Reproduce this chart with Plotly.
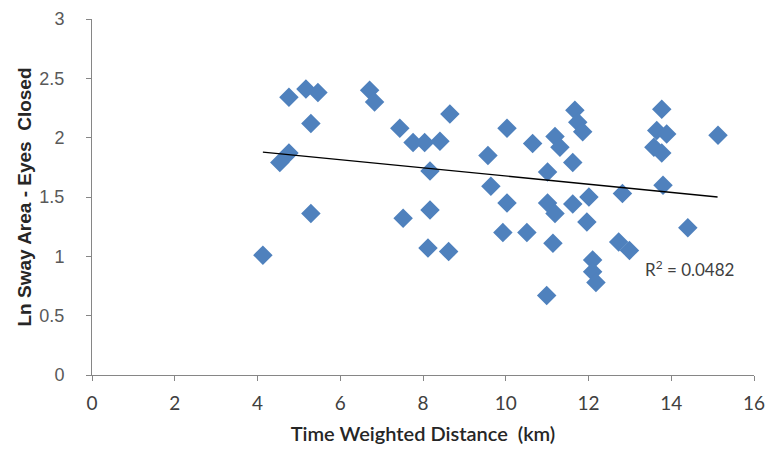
import plotly.graph_objects as go

distance_km = [4.13, 4.54, 4.76, 4.76, 5.17, 5.46, 5.29, 5.29, 6.71, 6.83,
               7.44, 7.76, 8.04, 8.41, 8.65, 8.17, 8.17, 7.52, 8.12, 8.62,
               9.57, 10.03, 9.64, 10.03, 9.93, 10.51, 10.65, 11.01, 11.19, 11.31,
               11.01, 11.19, 11.14, 10.99, 11.62, 11.67, 11.74, 11.86, 11.62, 12.01,
               11.96, 12.10, 12.10, 12.18, 12.82, 12.73, 12.99, 13.77, 13.65, 13.89,
               13.58, 13.77, 13.80, 14.40, 15.13]
ln_sway = [1.01, 1.79, 1.87, 2.34, 2.41, 2.38, 2.12, 1.36, 2.40, 2.30,
           2.08, 1.96, 1.96, 1.97, 2.20, 1.72, 1.39, 1.32, 1.07, 1.04,
           1.85, 2.08, 1.59, 1.45, 1.20, 1.20, 1.95, 1.71, 2.01, 1.92,
           1.45, 1.36, 1.11, 0.67, 1.79, 2.23, 2.13, 2.05, 1.44, 1.50,
           1.29, 0.97, 0.87, 0.78, 1.53, 1.12, 1.05, 2.24, 2.06, 2.03,
           1.92, 1.87, 1.60, 1.24, 2.02]

trend_x = [4.13, 15.12]
trend_y = [1.879, 1.500]
r2_label = "R<sup>2</sup> = 0.0482"

x_ticks = [0, 2, 4, 6, 8, 10, 12, 14, 16]
y_ticks = [0, 0.5, 1, 1.5, 2, 2.5, 3]

fig = go.Figure()
fig.add_trace(go.Scatter(
    x=distance_km, y=ln_sway, mode="markers",
    marker=dict(symbol="diamond", size=15, color="#4F81BD", line=dict(width=0)),
    showlegend=False, hoverinfo="x+y"))
fig.add_trace(go.Scatter(
    x=trend_x, y=trend_y, mode="lines",
    line=dict(color="black", width=1.3), showlegend=False))

fig.add_annotation(x=14.45, y=0.90, xref="x", yref="y", text=r2_label,
                   showarrow=False,
                   font=dict(family="Lato, Open Sans, sans-serif", size=17, color="#404040"))

fig.update_layout(
    width=771, height=456,
    margin=dict(l=92, r=17, t=19, b=81),
    paper_bgcolor="white", plot_bgcolor="white",
    xaxis=dict(range=[0, 16], tickvals=x_ticks, showgrid=False, zeroline=False,
               automargin=False,
               showline=True, linecolor="#868686", linewidth=1,
               ticks="outside", ticklen=5, tickcolor="#868686",
               ticklabelstandoff=6,
               tickfont=dict(family="Lato, Open Sans, sans-serif", size=19, color="#404040"),
               title=dict(text="Time Weighted Distance  (km)",
                          font=dict(family="Lato, Open Sans, sans-serif", size=20,
                                    color="#262626", weight=600),
                          standoff=14)),
    yaxis=dict(range=[0, 3], tickvals=y_ticks, showgrid=False, zeroline=False,
               automargin=False,
               showline=True, linecolor="#868686", linewidth=1,
               ticks="outside", ticklen=5, tickcolor="#868686",
               ticklabelstandoff=18,
               tickfont=dict(family="Liberation Sans, Arial, sans-serif", size=18, color="#595959"),
               title=dict(text="<b>Ln Sway Area - Eyes  Closed</b>",
                          font=dict(family="Liberation Sans, Arial, sans-serif", size=19,
                                    color="#262626"),
                          standoff=2)),
)

fig.write_html("out.html", config={"displayModeBar": False},
               post_script="document.body.style.margin='0';document.body.style.padding='0';")
